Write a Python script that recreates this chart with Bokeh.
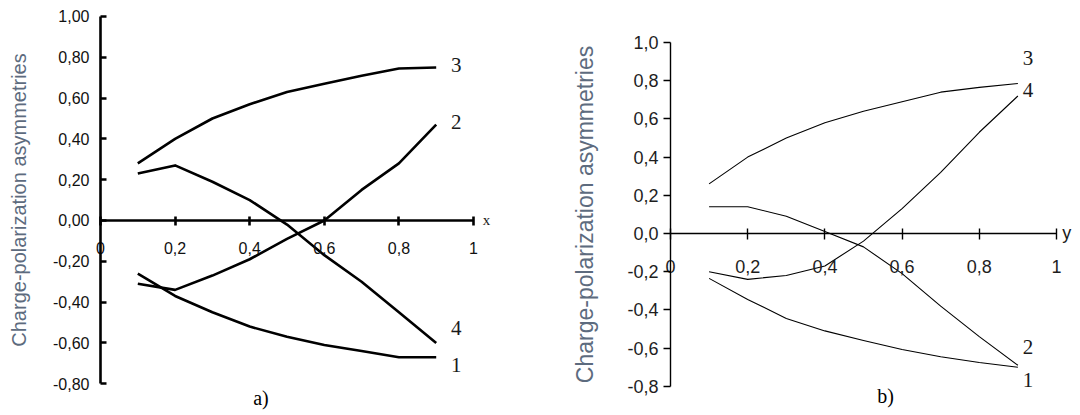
from bokeh.plotting import figure
from bokeh.models import (LinearAxis, FixedTicker, CustomJSTickFormatter, Range1d,
                          ColumnDataSource, Label)
from bokeh.layouts import row
from bokeh.embed import file_html
from bokeh.resources import INLINE
from bokeh.core.properties import value

# ---------------- data ----------------
x_vals = [0.1, 0.2, 0.3, 0.4, 0.5, 0.6, 0.7, 0.8, 0.9]

# panel a) (vs x)
a_curve1 = [-0.26, -0.37, -0.45, -0.52, -0.57, -0.61, -0.64, -0.67, -0.67]
a_curve2 = [-0.31, -0.34, -0.27, -0.19, -0.09, 0.00, 0.15, 0.28, 0.47]
a_curve3 = [0.28, 0.40, 0.50, 0.57, 0.63, 0.67, 0.71, 0.745, 0.75]
a_curve4 = [0.23, 0.27, 0.19, 0.10, -0.02, -0.17, -0.30, -0.45, -0.60]

# panel b) (vs y)
b_curve1 = [-0.235, -0.345, -0.445, -0.51, -0.56, -0.607, -0.645, -0.675, -0.70]
b_curve2 = [0.14, 0.14, 0.09, 0.01, -0.07, -0.21, -0.38, -0.54, -0.69]
b_curve3 = [0.26, 0.40, 0.50, 0.58, 0.64, 0.69, 0.74, 0.765, 0.785]
b_curve4 = [-0.20, -0.24, -0.22, -0.17, -0.04, 0.13, 0.32, 0.53, 0.72]

curve_names = ["1", "2", "3", "4"]
x_ticks = [0, 0.2, 0.4, 0.6, 0.8, 1.0]
y_ticks = [-0.8, -0.6, -0.4, -0.2, 0.0, 0.2, 0.4, 0.6, 0.8, 1.0]
y_title = "Charge-polarization asymmetries"

AXIS_TITLE_COLOR = "#5d6b7e"

x_fmt = CustomJSTickFormatter(code="""
    if (Math.abs(tick) < 1e-9) return "0";
    if (Math.abs(tick - 1) < 1e-9) return "1";
    return tick.toFixed(1).replace('.', ',');
""")
y_fmt_a = CustomJSTickFormatter(code="return tick.toFixed(2).replace('.', ',');")
y_fmt_b = CustomJSTickFormatter(code="return tick.toFixed(1).replace('.', ',');")


def panel(width, xr, yr, curves, lw, axis_lw, label_dx, label_dy, y_fmt,
          tick_font_size, tick_color, x_tick_in, x_tick_out, x_standoff,
          y_tick_in, y_tick_out, y_standoff, title_size, title_standoff,
          var_name, var_font, var_size, var_x, panel_tag, tag_xy):
    p = figure(width=width, height=415, x_range=Range1d(*xr), y_range=Range1d(*yr),
               x_axis_type=None, y_axis_type=None, toolbar_location=None,
               output_backend="svg", min_border=0, outline_line_color=None,
               background_fill_color="white", border_fill_color="white")

    xa = LinearAxis(fixed_location=0, bounds=(0, 1), ticker=FixedTicker(ticks=x_ticks),
                    formatter=x_fmt)
    ya = LinearAxis(fixed_location=0, bounds=(-0.8, 1.0), ticker=FixedTicker(ticks=y_ticks),
                    formatter=y_fmt, axis_label=y_title)
    for ax in (xa, ya):
        ax.axis_line_width = axis_lw
        ax.axis_line_color = "black"
        ax.major_tick_line_width = axis_lw
        ax.major_tick_line_color = "black"
        ax.minor_tick_line_color = None
        ax.major_label_text_font = "Liberation Sans"
        ax.major_label_text_font_size = tick_font_size
        ax.major_label_text_color = tick_color
    xa.major_tick_in = x_tick_in
    xa.major_tick_out = x_tick_out
    xa.major_label_standoff = x_standoff
    ya.major_tick_in = y_tick_in
    ya.major_tick_out = y_tick_out
    ya.major_label_standoff = y_standoff
    ya.axis_label_text_font = "Liberation Sans"
    ya.axis_label_text_font_style = "normal"
    ya.axis_label_text_font_size = title_size
    ya.axis_label_text_color = AXIS_TITLE_COLOR
    ya.axis_label_standoff = title_standoff
    p.add_layout(xa, "below")
    p.add_layout(ya, "left")

    ends = []
    for ys in curves:
        p.line(x_vals, ys, line_color="black", line_width=lw, line_join="round")
        ends.append(ys[-1])

    src = ColumnDataSource(dict(x=[x_vals[-1]] * 4, y=ends, t=curve_names,
                                dx=label_dx, dy=label_dy))
    p.text(x="x", y="y", text="t", x_offset="dx", y_offset="dy", source=src,
           text_font=value("Liberation Serif"), text_font_size="21px",
           text_align="center", text_baseline="middle", text_color="#1a1a1a")

    p.add_layout(Label(x=var_x, y=0, text=var_name, text_font=var_font,
                       text_font_size=var_size, text_align="left",
                       text_baseline="middle", text_color="#1a1a1a"))
    p.add_layout(Label(x=tag_xy[0], y=tag_xy[1], text=panel_tag,
                       text_font="Liberation Serif", text_font_size="20px",
                       text_align="center", text_baseline="middle",
                       text_color="black"))
    return p


pa = panel(556, (-0.2681, 1.2225), (-0.9559, 1.0784),
           [a_curve1, a_curve2, a_curve3, a_curve4], 2.6, 2.6,
           [20, 20, 20, 20], [8, -3, -2, -15], y_fmt_a,
           "16px", "#111111", 4, 5, 17, 6, 0, 11, "20px", 20,
           "x", "Liberation Serif", "15px", 1.025, "a)", (0.43, -0.868))

pb = panel(524, (-0.2953, 1.0622), (-0.9529, 1.2199),
           [b_curve1, b_curve2, b_curve3, b_curve4], 1.1, 1.4,
           [10, 10, 10, 10], [13, -18, -26, -6], y_fmt_b,
           "18px", "#1e1e1e", 5, 6, 21, 0, 7, 5, "23px", 26,
           "y", "Liberation Sans", "18px", 1.015, "b)", (0.557, -0.853))

layout = row(pa, pb)
open("out.html", "w").write(file_html(layout, INLINE))
